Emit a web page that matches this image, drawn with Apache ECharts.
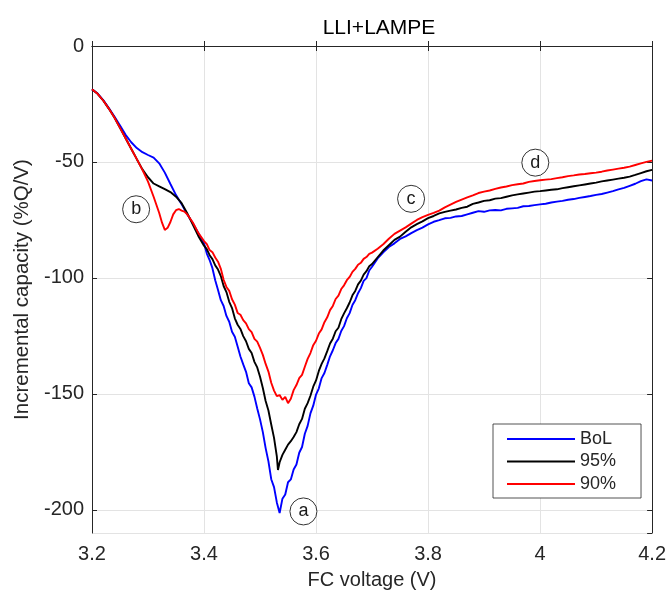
<!DOCTYPE html>
<html>
<head>
<meta charset="utf-8">
<title>LLI+LAMPE</title>
<script src="https://cdn.jsdelivr.net/npm/echarts@6/dist/echarts.min.js"></script>
<style>
  html, body { margin: 0; padding: 0; background: #ffffff; }
  #chart { width: 669px; height: 595px; }
</style>
</head>
<body>
<div id="chart"></div>
<script>
// Incremental capacity curves, [voltage (V), dQ/dV (%Q/V)]
const bolCurve = [
  [3.20,-18.7],[3.21,-20.5],[3.22,-23.3],[3.23,-26.8],[3.24,-30.4],[3.25,-34.3],[3.26,-38.3],
  [3.27,-41.5],[3.28,-44.0],[3.29,-45.8],[3.30,-47.0],[3.31,-48.1],[3.32,-50.6],[3.33,-54.6],
  [3.34,-59.5],[3.35,-64.3],[3.36,-68.2],[3.37,-72.6],[3.38,-76.4],[3.39,-80.7],
  [3.40,-85.2],[3.405,-89.5],[3.41,-92.3],[3.415,-95.8],[3.42,-101.0],[3.425,-105.2],
  [3.43,-109.6],[3.435,-112.1],[3.44,-116.4],[3.445,-118.9],[3.45,-123.2],[3.455,-125.4],
  [3.46,-129.6],[3.465,-133.9],[3.47,-137.3],[3.475,-140.5],[3.48,-145.4],[3.485,-147.2],
  [3.49,-151.2],[3.495,-156.3],[3.50,-161.0],[3.505,-166.5],[3.51,-173.4],[3.515,-179.1],
  [3.52,-186.8],[3.525,-190.2],[3.53,-196.8],[3.535,-201.4],[3.54,-195.2],[3.545,-193.4],
  [3.55,-188.1],[3.555,-186.9],[3.56,-182.6],[3.565,-180.5],[3.57,-175.4],[3.575,-172.9],
  [3.58,-167.2],[3.585,-163.8],[3.59,-158.4],[3.595,-155.1],[3.60,-150.3],[3.605,-147.6],
  [3.61,-143.2],[3.615,-141.0],[3.62,-137.5],[3.625,-133.8],[3.63,-131.2],[3.635,-128.1],
  [3.64,-126.3],[3.645,-122.9],[3.65,-120.8],[3.655,-117.4],[3.66,-115.2],[3.665,-111.7],
  [3.67,-109.6],[3.675,-106.6],[3.68,-104.4],[3.685,-101.3],[3.69,-100.1],[3.695,-96.8],
  [3.70,-95.2],[3.71,-91.6],[3.72,-89.0],[3.73,-86.7],
  [3.74,-85.1],[3.75,-83.2],[3.76,-82.1],[3.77,-80.7],[3.78,-79.4],[3.79,-78.3],[3.80,-76.9],
  [3.81,-75.8],[3.82,-75.1],[3.83,-74.3],[3.84,-74.1],[3.85,-73.5],[3.86,-73.3],[3.87,-72.6],
  [3.88,-71.9],[3.89,-71.2],[3.90,-71.5],[3.91,-70.9],[3.92,-70.7],[3.93,-70.9],[3.94,-70.2],
  [3.95,-70.0],[3.96,-69.8],[3.97,-69.1],[3.98,-69.0],[3.99,-68.6],[4.00,-68.3],[4.01,-68.0],
  [4.02,-67.5],[4.03,-67.1],[4.04,-66.8],[4.05,-66.3],[4.06,-66.0],[4.07,-65.5],[4.08,-65.1],
  [4.09,-64.7],[4.10,-64.2],[4.11,-63.8],[4.12,-63.2],[4.13,-62.6],[4.14,-61.8],[4.15,-61.2],
  [4.16,-60.3],[4.17,-59.4],[4.18,-58.3],[4.19,-57.5],[4.20,-58.0]
];

const soh95Curve = [
  [3.20,-18.7],[3.21,-20.6],[3.22,-23.5],[3.23,-27.0],[3.24,-30.8],[3.25,-35.3],[3.26,-39.8],
  [3.27,-44.3],[3.28,-48.8],[3.29,-53.2],[3.30,-56.6],[3.31,-59.3],[3.32,-60.5],[3.33,-61.7],
  [3.34,-63.0],[3.35,-65.0],[3.36,-67.8],[3.37,-72.1],[3.38,-77.0],[3.39,-82.0],
  [3.40,-86.1],[3.405,-87.6],[3.41,-90.2],[3.415,-91.9],[3.42,-94.6],[3.425,-96.4],
  [3.43,-99.2],[3.435,-103.5],[3.44,-106.1],[3.445,-110.3],[3.45,-113.0],[3.455,-117.4],
  [3.46,-120.2],[3.465,-122.0],[3.47,-125.1],[3.475,-127.3],[3.48,-130.6],[3.485,-132.4],
  [3.49,-136.2],[3.495,-138.6],[3.50,-142.6],[3.505,-147.5],[3.51,-153.1],[3.515,-157.2],
  [3.52,-163.2],[3.525,-169.0],[3.53,-177.0],[3.532,-182.8],[3.535,-179.5],[3.54,-176.3],
  [3.545,-174.1],[3.55,-171.9],[3.555,-170.4],[3.56,-168.6],[3.565,-166.5],[3.57,-163.1],
  [3.575,-160.8],[3.58,-156.4],[3.585,-154.0],[3.59,-150.8],[3.595,-146.9],[3.60,-144.2],
  [3.605,-140.1],[3.61,-137.1],[3.615,-134.7],[3.62,-131.6],[3.625,-128.3],[3.63,-126.2],
  [3.635,-123.0],[3.64,-121.5],[3.645,-117.8],[3.65,-115.3],[3.655,-113.1],[3.66,-110.6],
  [3.665,-107.5],[3.67,-105.6],[3.675,-102.8],[3.68,-101.2],[3.685,-98.6],[3.69,-97.1],
  [3.695,-95.0],[3.70,-94.0],[3.71,-91.1],[3.72,-88.2],
  [3.73,-85.9],[3.74,-83.6],[3.75,-82.2],[3.76,-80.1],[3.77,-78.2],[3.78,-76.8],[3.79,-75.6],
  [3.80,-74.2],[3.81,-73.3],[3.82,-72.2],[3.83,-71.5],[3.84,-71.0],[3.85,-70.5],[3.86,-69.8],
  [3.87,-69.3],[3.88,-68.1],[3.89,-67.5],[3.90,-66.8],[3.91,-66.5],[3.92,-65.8],[3.93,-65.6],
  [3.94,-65.0],[3.95,-64.4],[3.96,-64.0],[3.97,-63.6],[3.98,-63.2],[3.99,-62.8],[4.00,-62.6],
  [4.01,-62.3],[4.02,-62.0],[4.03,-61.8],[4.04,-61.3],[4.05,-60.9],[4.06,-60.5],[4.07,-60.1],
  [4.08,-59.7],[4.09,-59.3],[4.10,-58.9],[4.11,-58.4],[4.12,-58.0],[4.13,-57.6],[4.14,-57.2],
  [4.15,-56.8],[4.16,-56.3],[4.17,-55.6],[4.18,-54.8],[4.19,-54.0],[4.20,-53.4]
];

const soh90Curve = [
  [3.20,-18.7],[3.21,-20.6],[3.22,-23.5],[3.23,-27.0],[3.24,-30.8],[3.25,-35.3],[3.26,-39.8],
  [3.27,-44.3],[3.28,-48.8],[3.29,-53.4],[3.30,-58.5],[3.31,-65.0],[3.32,-72.0],[3.325,-76.2],
  [3.33,-79.3],[3.335,-78.4],[3.34,-75.9],[3.345,-72.6],[3.35,-70.8],[3.355,-70.3],
  [3.36,-71.0],[3.365,-71.4],[3.37,-72.6],[3.38,-76.1],[3.39,-80.7],
  [3.40,-84.1],[3.405,-85.4],[3.41,-88.0],[3.415,-88.9],[3.42,-91.2],[3.425,-93.0],
  [3.43,-96.1],[3.435,-100.8],[3.44,-103.9],[3.445,-105.6],[3.45,-109.2],[3.455,-111.5],
  [3.46,-115.1],[3.465,-115.9],[3.47,-118.2],[3.475,-119.6],[3.48,-122.1],[3.485,-123.4],
  [3.49,-126.3],[3.495,-127.5],[3.50,-130.2],[3.505,-133.2],[3.51,-137.1],[3.515,-140.4],
  [3.52,-145.2],[3.525,-148.6],[3.53,-151.0],[3.535,-150.5],[3.54,-152.6],[3.545,-151.3],
  [3.55,-154.0],[3.555,-152.1],[3.56,-148.4],[3.565,-146.2],[3.57,-143.2],[3.575,-141.8],
  [3.58,-138.3],[3.585,-134.9],[3.59,-132.4],[3.595,-129.0],[3.60,-127.1],[3.605,-124.0],
  [3.61,-122.2],[3.615,-119.1],[3.62,-117.0],[3.625,-113.9],[3.63,-112.1],[3.635,-109.1],
  [3.64,-107.6],[3.645,-104.8],[3.65,-103.2],[3.655,-101.0],[3.66,-99.6],[3.665,-97.4],
  [3.67,-96.1],[3.675,-94.3],[3.68,-93.5],[3.685,-91.8],[3.69,-91.0],[3.695,-89.6],
  [3.70,-89.1],[3.71,-87.4],[3.72,-85.5],[3.73,-83.1],[3.74,-81.0],[3.75,-79.6],
  [3.76,-78.2],[3.77,-76.6],[3.78,-75.0],[3.79,-73.8],[3.80,-72.8],[3.81,-72.0],[3.82,-71.0],
  [3.83,-69.6],[3.84,-68.4],[3.85,-67.2],[3.86,-66.2],[3.87,-65.3],[3.88,-64.4],[3.89,-63.4],
  [3.90,-62.8],[3.91,-62.3],[3.92,-61.6],[3.93,-61.0],[3.94,-60.6],[3.95,-60.0],[3.96,-59.6],
  [3.97,-59.3],[3.98,-58.6],[3.99,-58.2],[4.00,-57.9],[4.01,-57.6],[4.02,-57.4],[4.03,-57.0],
  [4.04,-56.6],[4.05,-56.1],[4.06,-55.8],[4.07,-55.4],[4.08,-55.2],[4.09,-54.9],[4.10,-54.6],
  [4.11,-54.2],[4.12,-53.7],[4.13,-53.3],[4.14,-52.9],[4.15,-52.5],[4.16,-52.0],[4.17,-51.3],
  [4.18,-50.6],[4.19,-50.0],[4.20,-49.4]
];

const seriesNames = ['BoL', '95%', '90%'];
const seriesColors = ['#0000ff', '#000000', '#ff0000'];

// Circled peak labels, placed in data coordinates
const peakLabels = ['a', 'b', 'c', 'd'];
const peakCoords = [[3.5775, -200.7], [3.2788, -70.4], [3.7697, -65.9], [3.9915, -50.3]];

const chart = echarts.init(document.getElementById('chart'), null, { renderer: 'canvas' });

const FONT = 'Liberation Sans, Arial, Helvetica, sans-serif';
const AXIS_COLOR = '#262626';

const curveSeries = [bolCurve, soh95Curve, soh90Curve].map((data, i) => ({
  name: seriesNames[i],
  type: 'line',
  data: data,
  showSymbol: false,
  symbol: 'none',
  lineStyle: { color: seriesColors[i], width: 1.9 },
  itemStyle: { color: seriesColors[i] },
  z: 3 + i,
  animation: false
}));

const annotationSeries = {
  name: 'peaks',
  type: 'line',
  data: [],
  z: 10,
  markPoint: {
    symbol: 'circle',
    symbolSize: 27,
    itemStyle: { color: '#ffffff', borderColor: '#333333', borderWidth: 1 },
    label: {
      show: true,
      color: '#1a1a1a',
      fontSize: 18,
      fontFamily: FONT,
      formatter: p => p.name
    },
    data: peakLabels.map((n, i) => ({ name: n, coord: peakCoords[i] }))
  },
  animation: false
};

chart.setOption({
  backgroundColor: '#ffffff',
  animation: false,
  title: {
    text: 'LLI+LAMPE',
    left: 374,
    textAlign: 'center',
    top: 13,
    textStyle: { fontFamily: FONT, fontSize: 21, fontWeight: 'normal', color: '#000000' }
  },
  legend: {
    data: seriesNames,
    orient: 'vertical',
    left: 493,
    top: 424,
    icon: 'rect',
    itemWidth: 68,
    itemHeight: 2,
    itemGap: 4.5,
    padding: [6, 25, 5, 14],
    backgroundColor: '#ffffff',
    borderColor: AXIS_COLOR,
    borderWidth: 0.8,
    textStyle: { fontFamily: FONT, fontSize: 18, color: AXIS_COLOR, lineHeight: 18 }
  },
  grid: {
    left: 92,
    right: 13,
    top: 46,
    bottom: 62,
    containLabel: false
  },
  xAxis: [
    {
      type: 'value',
      min: 3.2,
      max: 4.2,
      interval: 0.2,
      name: 'FC voltage (V)',
      nameLocation: 'middle',
      nameGap: 37,
      nameTextStyle: { fontFamily: FONT, fontSize: 20, color: AXIS_COLOR },
      axisLine: { show: true, lineStyle: { color: AXIS_COLOR, width: 1 } },
      axisTick: { show: true, inside: true, length: 5, lineStyle: { color: AXIS_COLOR } },
      axisLabel: { fontFamily: FONT, fontSize: 20, color: AXIS_COLOR, margin: 11 },
      splitLine: { show: true, lineStyle: { color: '#e3e3e3', width: 1 } }
    },
    {
      type: 'value',
      position: 'top',
      min: 3.2,
      max: 4.2,
      interval: 0.2,
      axisLine: { show: true, onZero: false, lineStyle: { color: AXIS_COLOR, width: 1 } },
      axisTick: { show: true, inside: true, length: 5, lineStyle: { color: AXIS_COLOR } },
      axisLabel: { show: false },
      splitLine: { show: false }
    }
  ],
  yAxis: [
    {
      type: 'value',
      min: -210,
      max: 0,
      splitNumber: 4,
      name: 'Incremental capacity (%Q/V)',
      nameLocation: 'middle',
      nameGap: 54,
      nameTextStyle: { fontFamily: FONT, fontSize: 20.5, color: AXIS_COLOR },
      axisLine: { show: true, onZero: false, lineStyle: { color: AXIS_COLOR, width: 1 } },
      axisTick: { show: true, inside: true, length: 5, lineStyle: { color: AXIS_COLOR } },
      axisLabel: { fontFamily: FONT, fontSize: 20, color: AXIS_COLOR, margin: 8, showMinLabel: false },
      splitLine: { show: true, lineStyle: { color: '#e3e3e3', width: 1 } }
    },
    {
      type: 'value',
      position: 'right',
      min: -210,
      max: 0,
      splitNumber: 4,
      axisLine: { show: true, onZero: false, lineStyle: { color: AXIS_COLOR, width: 1 } },
      axisTick: { show: true, inside: true, length: 5, lineStyle: { color: AXIS_COLOR } },
      axisLabel: { show: false },
      splitLine: { show: false }
    }
  ],
  series: curveSeries.concat([annotationSeries])
});
</script>
</body>
</html>
